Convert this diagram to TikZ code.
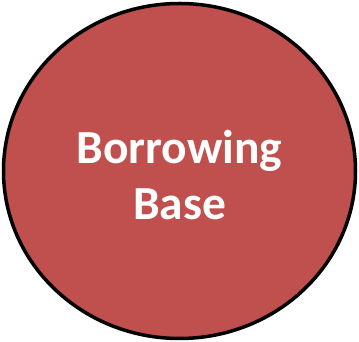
\documentclass[tikz,border=0pt]{standalone}
\usepackage{fontspec}
\setmainfont{Carlito}
\usetikzlibrary{shapes.geometric}
\definecolor{bbred}{HTML}{C0504D}
\tikzset{bubble/.style={ellipse, draw=black, line width=3.5pt, fill=bbred, minimum width=352pt, minimum height=335pt, inner sep=0pt},
  bubbletext/.style={text=white, font=\bfseries\fontsize{47.5}{56}\selectfont, align=center, inner sep=0pt}}
\begin{document}
\begin{tikzpicture}[x=1pt,y=1pt]
\useasboundingbox (0,0) rectangle (359,342);
\node[bubble] (bb) at (179.5,171) {};
\node[bubbletext] (lbl) at (179.5,167) {Borrowing\\Base};
\end{tikzpicture}
\end{document}
